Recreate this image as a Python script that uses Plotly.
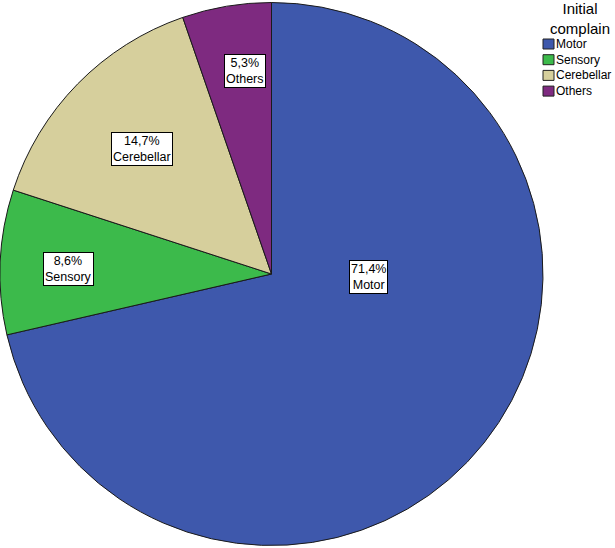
import plotly.graph_objects as go

categories = ["Motor", "Sensory", "Cerebellar", "Others"]
percentages = [71.4, 8.6, 14.7, 5.3]
colors = ["#3E58AC", "#3CBA4B", "#D6CF9C", "#7E2A80"]
legend_title = "Initial<br>complain"

W, H = 615, 548
FONT = "Arial, Liberation Sans, sans-serif"
# label box centres (pixels) for each slice, style/layout only
label_px = [(368, 277), (68, 269), (142, 149), (245, 71)]

fig = go.Figure(go.Pie(
    labels=categories,
    values=percentages,
    sort=False,
    direction="clockwise",
    rotation=0,
    marker=dict(colors=colors, line=dict(color="#1a1a1a", width=1)),
    textinfo="none",
    hoverinfo="label+percent",
    showlegend=False,
    domain=dict(x=[0, 543 / W], y=[0, 1]),
))

for cat, p, (px, py) in zip(categories, percentages, label_px):
    fig.add_annotation(
        x=px / W, y=1 - py / H, xref="paper", yref="paper",
        xanchor="center", yanchor="middle",
        text=f"{p:.1f}%".replace(".", ",") + "<br>" + cat,
        showarrow=False,
        font=dict(family=FONT, size=12.5, color="black"),
        bgcolor="white", bordercolor="black", borderwidth=1, borderpad=1,
        align="center",
    )

# manual legend (SPSS style)
fig.add_annotation(
    x=580 / W, y=1 + 2 / H, xref="paper", yref="paper",
    xanchor="center", yanchor="top",
    text=legend_title, showarrow=False, align="center",
    font=dict(family=FONT, size=15, color="black"),
)
for i, (cat, col) in enumerate(zip(categories, colors)):
    top = 39 + 15.7 * i
    fig.add_shape(
        type="rect", xref="paper", yref="paper",
        x0=543 / W, x1=554 / W, y0=1 - (top + 10) / H, y1=1 - top / H,
        fillcolor=col, line=dict(color="#222222", width=1),
    )
    fig.add_annotation(
        x=555 / W, y=1 - (top + 5) / H, xref="paper", yref="paper",
        xanchor="left", yanchor="middle",
        text=cat, showarrow=False, borderpad=0,
        font=dict(family=FONT, size=12, color="black"),
    )

fig.update_layout(
    width=W, height=H,
    margin=dict(l=0, r=0, t=0, b=0, autoexpand=False),
    paper_bgcolor="white",
    plot_bgcolor="white",
    font=dict(family=FONT, color="black"),
    showlegend=False,
)

fig.write_html(
    "out.html",
    config={"displayModeBar": False},
    post_script="document.body.style.margin='0';document.body.style.overflow='hidden';",
)
